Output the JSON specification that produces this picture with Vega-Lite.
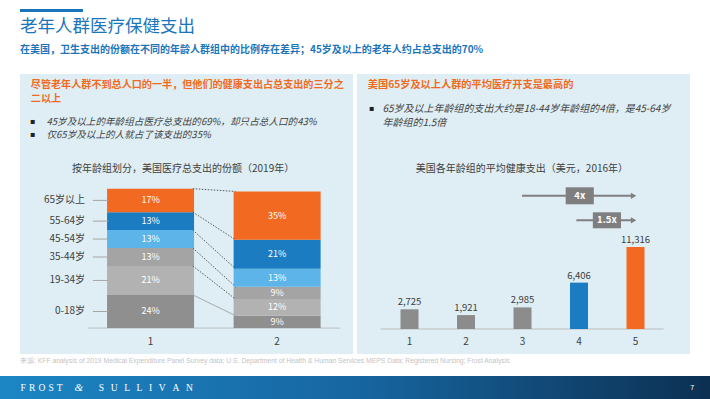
{
  "$schema": "https://vega.github.io/schema/vega-lite/v6.json",
  "padding": {"top": 9, "left": 0, "right": 0, "bottom": 0},
  "background": "#ffffff",
  "spacing": 3,
  "config": {"view": {"stroke": null}, "font": "Noto Sans CJK SC", "axis": {"grid": false}},
  "datasets": {
    "share": [
      {"bar": 1, "age": "0-18岁", "share": 24},
      {"bar": 1, "age": "19-34岁", "share": 21},
      {"bar": 1, "age": "35-44岁", "share": 13},
      {"bar": 1, "age": "45-54岁", "share": 13},
      {"bar": 1, "age": "55-64岁", "share": 13},
      {"bar": 1, "age": "65岁以上", "share": 17},
      {"bar": 2, "age": "0-18岁", "share": 9},
      {"bar": 2, "age": "19-34岁", "share": 12},
      {"bar": 2, "age": "35-44岁", "share": 9},
      {"bar": 2, "age": "45-54岁", "share": 13},
      {"bar": 2, "age": "55-64岁", "share": 21},
      {"bar": 2, "age": "65岁以上", "share": 35}
    ],
    "spend": [
      {"grp": 1, "spend": 2725},
      {"grp": 2, "spend": 1921},
      {"grp": 3, "spend": 2985},
      {"grp": 4, "spend": 6406},
      {"grp": 5, "spend": 11316}
    ]
  },
  "vconcat": [
    {
      "spacing": 4,
      "hconcat": [
        {"width": 16, "height": 5, "view": {"fill": "transparent", "stroke": null}, "data": {"values": []}, "mark": "point", "encoding": {}},
        {"width": 63, "height": 3, "view": {"fill": "#1b75bb", "stroke": null}, "data": {"values": []}, "mark": "point", "encoding": {}}
      ]
    },
    {
      "spacing": 4,
      "resolve": {"scale": {"color": "independent"}},
      "title": {
        "text": "老年人群医疗保健支出",
        "subtitle": "在美国，卫生支出的份额在不同的年龄人群组中的比例存在差异；45岁及以上的老年人约占总支出的70%",
        "anchor": "start", "dx": 20, "frame": "group",
        "font": "Noto Sans CJK SC", "fontSize": 17.5, "fontWeight": "normal", "color": "#1b75bb",
        "subtitleFont": "Noto Sans CJK SC", "subtitleFontSize": 10, "subtitleFontWeight": "bold", "subtitleColor": "#1b75bb",
        "subtitlePadding": 10, "offset": 18.7
      },
      "hconcat": [
        {"width": 16, "height": 3, "view": {"fill": "transparent", "stroke": null}, "data": {"values": []}, "mark": "point", "encoding": {}},
        {
          "width": 333, "height": 280,
          "view": {"fill": "#deeef4", "stroke": null},
          "layer": [
            {
              "data": {"values": [{}]},
              "mark": {"type": "rule", "color": "#bdbdbd", "strokeWidth": 1},
              "encoding": {
                "x": {"datum": 0.506, "type": "quantitative", "scale": {"domain": [0.008, 2.56], "nice": false, "zero": false}, "axis": null},
                "x2": {"datum": 2.499},
                "y": {"datum": 0, "type": "quantitative", "scale": {"domain": [-18.8, 184.1], "nice": false, "zero": false}, "axis": null}
              }
            },
            {
              "data": {"name": "share"},
              "transform": [
                {"stack": "share", "groupby": ["bar"], "sort": [{"field": "age", "order": "ascending"}], "as": ["y0", "y1"]}
              ],
              "mark": {"type": "bar", "width": 87},
              "encoding": {
                "x": {"field": "bar", "type": "quantitative", "scale": {"domain": [0.008, 2.56], "nice": false, "zero": false}, "axis": null},
                "y": {"field": "y0", "type": "quantitative", "scale": {"domain": [-18.8, 184.1], "nice": false, "zero": false}, "axis": null},
                "y2": {"field": "y1"},
                "color": {"field": "age", "type": "nominal", "legend": null,
                          "scale": {"domain": ["0-18岁", "19-34岁", "35-44岁", "45-54岁", "55-64岁", "65岁以上"],
                                    "range": ["#8f8f8f", "#b2b2b2", "#a4a4a4", "#5cb4e9", "#1c7cc2", "#f26a21"]}}
              }
            },
            {
              "data": {"name": "share"},
              "transform": [
                {"stack": "share", "groupby": ["bar"], "sort": [{"field": "age", "order": "ascending"}], "as": ["y0", "y1"]},
                {"pivot": "bar", "value": "y1", "groupby": ["age"]}
              ],
              "mark": {"type": "rule", "strokeWidth": 1},
              "encoding": {
                "x": {"datum": 1.334, "type": "quantitative", "scale": {"domain": [0.008, 2.56], "nice": false, "zero": false}, "axis": null},
                "x2": {"datum": 1.671},
                "y": {"field": "1", "type": "quantitative", "scale": {"domain": [-18.8, 184.1], "nice": false, "zero": false}, "axis": null},
                "y2": {"field": "2"},
                "color": {"condition": {"test": "datum.age === '0-18岁'", "value": "#a0a0a0"}, "value": "#5a5a5a"},
                "strokeDash": {"condition": {"test": "datum.age === '0-18岁'", "value": [1, 0]}, "value": [1.5, 1.5]}
              }
            },
            {
              "data": {"name": "share"},
              "transform": [
                {"stack": "share", "groupby": ["bar"], "sort": [{"field": "age", "order": "ascending"}], "as": ["y0", "y1"]},
                {"calculate": "(datum.y0 + datum.y1) / 2", "as": "ymid"},
                {"calculate": "datum.share + '%'", "as": "lbl"}
              ],
              "mark": {"type": "text", "color": "#ffffff", "fontSize": 9, "font": "Noto Sans CJK SC"},
              "encoding": {
                "x": {"field": "bar", "type": "quantitative", "scale": {"domain": [0.008, 2.56], "nice": false, "zero": false}, "axis": null},
                "y": {"field": "ymid", "type": "quantitative", "scale": {"domain": [-18.8, 184.1], "nice": false, "zero": false}, "axis": null},
                "text": {"field": "lbl"}
              }
            },
            {
              "data": {"name": "share"},
              "transform": [
                {"aggregate": [{"op": "count", "as": "n"}], "groupby": ["bar"]}
              ],
              "mark": {"type": "text", "color": "#404040", "fontSize": 10, "font": "Noto Sans CJK SC"},
              "encoding": {
                "x": {"field": "bar", "type": "quantitative", "scale": {"domain": [0.008, 2.56], "nice": false, "zero": false}, "axis": null},
                "y": {"datum": -10.4, "type": "quantitative", "scale": {"domain": [-18.8, 184.1], "nice": false, "zero": false}, "axis": null},
                "text": {"field": "bar", "format": "d"}
              }
            },
            {
              "data": {"name": "share"},
              "transform": [
                {"stack": "share", "groupby": ["bar"], "sort": [{"field": "age", "order": "ascending"}], "as": ["y0", "y1"]},
                {"calculate": "(datum.y0 + datum.y1) / 2", "as": "ymid"},
                {"filter": "datum.bar === 1"}
              ],
              "mark": {"type": "text", "align": "right", "color": "#404040", "fontSize": 10, "font": "Noto Sans CJK SC"},
              "encoding": {
                "x": {"datum": 0.483, "type": "quantitative", "scale": {"domain": [0.008, 2.56], "nice": false, "zero": false}, "axis": null},
                "y": {"field": "ymid", "type": "quantitative", "scale": {"domain": [-18.8, 184.1], "nice": false, "zero": false}, "axis": null},
                "text": {"field": "age"}
              }
            },
            {
              "data": {"name": "share"},
              "transform": [
                {"stack": "share", "groupby": ["bar"], "sort": [{"field": "age", "order": "ascending"}], "as": ["y0", "y1"]},
                {"calculate": "(datum.y0 + datum.y1) / 2", "as": "ymid"},
                {"filter": "datum.bar === 1"}
              ],
              "mark": {"type": "rule", "color": "#a6a6a6", "strokeWidth": 1},
              "encoding": {
                "x": {"datum": 0.544, "type": "quantitative", "scale": {"domain": [0.008, 2.56], "nice": false, "zero": false}, "axis": null},
                "x2": {"datum": 0.667},
                "y": {"field": "ymid", "type": "quantitative", "scale": {"domain": [-18.8, 184.1], "nice": false, "zero": false}, "axis": null}
              }
            },
            {
              "data": {"values": [{}]},
              "mark": {"type": "text", "text": "尽管老年人群不到总人口的一半，但他们的健康支出占总支出的三分之", "align": "left", "color": "#f26a21", "fontSize": 10.1, "fontWeight": "bold", "font": "Noto Sans CJK SC"},
              "encoding": {
                "x": {"datum": 0.054, "type": "quantitative", "scale": {"domain": [0.008, 2.56], "nice": false, "zero": false}, "axis": null},
                "y": {"datum": 176.3, "type": "quantitative", "scale": {"domain": [-18.8, 184.1], "nice": false, "zero": false}, "axis": null}
              }
            },
            {
              "data": {"values": [{}]},
              "mark": {"type": "text", "text": "二以上", "align": "left", "color": "#f26a21", "fontSize": 10.1, "fontWeight": "bold", "font": "Noto Sans CJK SC"},
              "encoding": {
                "x": {"datum": 0.054, "type": "quantitative", "scale": {"domain": [0.008, 2.56], "nice": false, "zero": false}, "axis": null},
                "y": {"datum": 165.9, "type": "quantitative", "scale": {"domain": [-18.8, 184.1], "nice": false, "zero": false}, "axis": null}
              }
            },
            {
              "data": {"values": [{}]},
              "mark": {"type": "text", "text": "▪", "align": "left", "color": "#222222", "fontSize": 8, "font": "DejaVu Sans"},
              "encoding": {
                "x": {"datum": 0.046, "type": "quantitative", "scale": {"domain": [0.008, 2.56], "nice": false, "zero": false}, "axis": null},
                "y": {"datum": 149.5, "type": "quantitative", "scale": {"domain": [-18.8, 184.1], "nice": false, "zero": false}, "axis": null}
              }
            },
            {
              "data": {"values": [{}]},
              "mark": {"type": "text", "text": "▪", "align": "left", "color": "#222222", "fontSize": 8, "font": "DejaVu Sans"},
              "encoding": {
                "x": {"datum": 0.046, "type": "quantitative", "scale": {"domain": [0.008, 2.56], "nice": false, "zero": false}, "axis": null},
                "y": {"datum": 139.6, "type": "quantitative", "scale": {"domain": [-18.8, 184.1], "nice": false, "zero": false}, "axis": null}
              }
            },
            {
              "data": {"values": [{}]},
              "mark": {"type": "text", "text": "45岁及以上的年龄组占医疗总支出的69%，却只占总人口的43%", "align": "left", "color": "#404040", "fontSize": 9.6, "fontStyle": "italic", "font": "Noto Sans CJK SC"},
              "encoding": {
                "x": {"datum": 0.177, "type": "quantitative", "scale": {"domain": [0.008, 2.56], "nice": false, "zero": false}, "axis": null},
                "y": {"datum": 149.5, "type": "quantitative", "scale": {"domain": [-18.8, 184.1], "nice": false, "zero": false}, "axis": null}
              }
            },
            {
              "data": {"values": [{}]},
              "mark": {"type": "text", "text": "仅65岁及以上的人就占了该支出的35%", "align": "left", "color": "#404040", "fontSize": 9.6, "fontStyle": "italic", "font": "Noto Sans CJK SC"},
              "encoding": {
                "x": {"datum": 0.177, "type": "quantitative", "scale": {"domain": [0.008, 2.56], "nice": false, "zero": false}, "axis": null},
                "y": {"datum": 139.6, "type": "quantitative", "scale": {"domain": [-18.8, 184.1], "nice": false, "zero": false}, "axis": null}
              }
            },
            {
              "data": {"values": [{}]},
              "mark": {"type": "text", "text": "按年龄组划分，美国医疗总支出的份额（2019年）", "align": "center", "color": "#404040", "fontSize": 10, "font": "Noto Sans CJK SC"},
              "encoding": {
                "x": {"datum": 1.257, "type": "quantitative", "scale": {"domain": [0.008, 2.56], "nice": false, "zero": false}, "axis": null},
                "y": {"datum": 115.0, "type": "quantitative", "scale": {"domain": [-18.8, 184.1], "nice": false, "zero": false}, "axis": null}
              }
            }
          ]
        },
        {
          "width": 333, "height": 280,
          "view": {"fill": "#deeef4", "stroke": null},
          "layer": [
            {
              "data": {"values": [{}]},
              "mark": {"type": "rule", "color": "#bdbdbd", "strokeWidth": 1},
              "encoding": {
                "x": {"datum": 0.485, "type": "quantitative", "scale": {"domain": [0.159, 5.876], "nice": false, "zero": false}, "axis": null},
                "x2": {"datum": 5.498},
                "y": {"datum": 0, "type": "quantitative", "scale": {"domain": [-3453, 35221], "nice": false, "zero": false}, "axis": null}
              }
            },
            {
              "data": {"name": "spend"},
              "mark": {"type": "bar", "width": 18},
              "encoding": {
                "x": {"field": "grp", "type": "quantitative", "scale": {"domain": [0.159, 5.876], "nice": false, "zero": false}, "axis": null},
                "y": {"field": "spend", "type": "quantitative", "scale": {"domain": [-3453, 35221], "nice": false, "zero": false}, "axis": null},
                "color": {"field": "grp", "type": "nominal", "legend": null,
                          "scale": {"domain": [1, 2, 3, 4, 5], "range": ["#8c8c8c", "#8c8c8c", "#8c8c8c", "#1c7cc2", "#f26a21"]}}
              }
            },
            {
              "data": {"name": "spend"},
              "mark": {"type": "text", "baseline": "bottom", "dy": -2, "color": "#404040", "fontSize": 9.5, "font": "Noto Sans CJK SC"},
              "encoding": {
                "x": {"field": "grp", "type": "quantitative", "scale": {"domain": [0.159, 5.876], "nice": false, "zero": false}, "axis": null},
                "y": {"field": "spend", "type": "quantitative", "scale": {"domain": [-3453, 35221], "nice": false, "zero": false}, "axis": null},
                "text": {"field": "spend", "format": ","}
              }
            },
            {
              "data": {"name": "spend"},
              "mark": {"type": "text", "color": "#404040", "fontSize": 10, "font": "Noto Sans CJK SC"},
              "encoding": {
                "x": {"field": "grp", "type": "quantitative", "scale": {"domain": [0.159, 5.876], "nice": false, "zero": false}, "axis": null},
                "y": {"datum": -1837, "type": "quantitative", "scale": {"domain": [-3453, 35221], "nice": false, "zero": false}, "axis": null},
                "text": {"field": "grp", "format": "d"}
              }
            },
            {
              "data": {"values": [{}]},
              "mark": {"type": "rule", "color": "#7f7f7f", "strokeWidth": 2},
              "encoding": {
                "x": {"datum": 2.992, "type": "quantitative", "scale": {"domain": [0.159, 5.876], "nice": false, "zero": false}, "axis": null},
                "x2": {"datum": 4.93},
                "y": {"datum": 18398, "type": "quantitative", "scale": {"domain": [-3453, 35221], "nice": false, "zero": false}, "axis": null}
              }
            },
            {
              "data": {"values": [{}]},
              "mark": {"type": "point", "shape": "triangle-right", "filled": true, "size": 40, "color": "#7f7f7f", "opacity": 1},
              "encoding": {
                "x": {"datum": 4.966, "type": "quantitative", "scale": {"domain": [0.159, 5.876], "nice": false, "zero": false}, "axis": null},
                "y": {"datum": 18398, "type": "quantitative", "scale": {"domain": [-3453, 35221], "nice": false, "zero": false}, "axis": null}
              }
            },
            {
              "data": {"values": [{}]},
              "mark": {"type": "rect", "color": "#7f7f7f"},
              "encoding": {
                "x": {"datum": 3.764, "type": "quantitative", "scale": {"domain": [0.159, 5.876], "nice": false, "zero": false}, "axis": null},
                "x2": {"datum": 4.262},
                "y": {"datum": 19572, "type": "quantitative", "scale": {"domain": [-3453, 35221], "nice": false, "zero": false}, "axis": null},
                "y2": {"datum": 17224}
              }
            },
            {
              "data": {"values": [{}]},
              "mark": {"type": "text", "text": "4x", "color": "#ffffff", "fontSize": 9.5, "fontWeight": "bold", "font": "Noto Sans CJK SC"},
              "encoding": {
                "x": {"datum": 4.013, "type": "quantitative", "scale": {"domain": [0.159, 5.876], "nice": false, "zero": false}, "axis": null},
                "y": {"datum": 18398, "type": "quantitative", "scale": {"domain": [-3453, 35221], "nice": false, "zero": false}, "axis": null}
              }
            },
            {
              "data": {"values": [{}]},
              "mark": {"type": "rule", "color": "#7f7f7f", "strokeWidth": 2},
              "encoding": {
                "x": {"datum": 3.953, "type": "quantitative", "scale": {"domain": [0.159, 5.876], "nice": false, "zero": false}, "axis": null},
                "x2": {"datum": 4.93},
                "y": {"datum": 15014, "type": "quantitative", "scale": {"domain": [-3453, 35221], "nice": false, "zero": false}, "axis": null}
              }
            },
            {
              "data": {"values": [{}]},
              "mark": {"type": "point", "shape": "triangle-right", "filled": true, "size": 40, "color": "#7f7f7f", "opacity": 1},
              "encoding": {
                "x": {"datum": 4.966, "type": "quantitative", "scale": {"domain": [0.159, 5.876], "nice": false, "zero": false}, "axis": null},
                "y": {"datum": 15014, "type": "quantitative", "scale": {"domain": [-3453, 35221], "nice": false, "zero": false}, "axis": null}
              }
            },
            {
              "data": {"values": [{}]},
              "mark": {"type": "rect", "color": "#7f7f7f"},
              "encoding": {
                "x": {"datum": 4.245, "type": "quantitative", "scale": {"domain": [0.159, 5.876], "nice": false, "zero": false}, "axis": null},
                "x2": {"datum": 4.743},
                "y": {"datum": 16119, "type": "quantitative", "scale": {"domain": [-3453, 35221], "nice": false, "zero": false}, "axis": null},
                "y2": {"datum": 13909}
              }
            },
            {
              "data": {"values": [{}]},
              "mark": {"type": "text", "text": "1.5x", "color": "#ffffff", "fontSize": 9.5, "fontWeight": "bold", "font": "Noto Sans CJK SC"},
              "encoding": {
                "x": {"datum": 4.494, "type": "quantitative", "scale": {"domain": [0.159, 5.876], "nice": false, "zero": false}, "axis": null},
                "y": {"datum": 15014, "type": "quantitative", "scale": {"domain": [-3453, 35221], "nice": false, "zero": false}, "axis": null}
              }
            },
            {
              "data": {"values": [{}]},
              "mark": {"type": "text", "text": "美国65岁及以上人群的平均医疗开支是最高的", "align": "left", "color": "#f26a21", "fontSize": 10.2, "fontWeight": "bold", "font": "Noto Sans CJK SC"},
              "encoding": {
                "x": {"datum": 0.262, "type": "quantitative", "scale": {"domain": [0.159, 5.876], "nice": false, "zero": false}, "axis": null},
                "y": {"datum": 33660, "type": "quantitative", "scale": {"domain": [-3453, 35221], "nice": false, "zero": false}, "axis": null}
              }
            },
            {
              "data": {"values": [{}]},
              "mark": {"type": "text", "text": "▪", "align": "left", "color": "#222222", "fontSize": 8, "font": "DejaVu Sans"},
              "encoding": {
                "x": {"datum": 0.279, "type": "quantitative", "scale": {"domain": [0.159, 5.876], "nice": false, "zero": false}, "axis": null},
                "y": {"datum": 30345, "type": "quantitative", "scale": {"domain": [-3453, 35221], "nice": false, "zero": false}, "axis": null}
              }
            },
            {
              "data": {"values": [{}]},
              "mark": {"type": "text", "text": "65岁及以上年龄组的支出大约是18-44岁年龄组的4倍，是45-64岁", "align": "left", "color": "#404040", "fontSize": 10, "fontStyle": "italic", "font": "Noto Sans CJK SC"},
              "encoding": {
                "x": {"datum": 0.52, "type": "quantitative", "scale": {"domain": [0.159, 5.876], "nice": false, "zero": false}, "axis": null},
                "y": {"datum": 30345, "type": "quantitative", "scale": {"domain": [-3453, 35221], "nice": false, "zero": false}, "axis": null}
              }
            },
            {
              "data": {"values": [{}]},
              "mark": {"type": "text", "text": "年龄组的1.5倍", "align": "left", "color": "#404040", "fontSize": 10, "fontStyle": "italic", "font": "Noto Sans CJK SC"},
              "encoding": {
                "x": {"datum": 0.52, "type": "quantitative", "scale": {"domain": [0.159, 5.876], "nice": false, "zero": false}, "axis": null},
                "y": {"datum": 28412, "type": "quantitative", "scale": {"domain": [-3453, 35221], "nice": false, "zero": false}, "axis": null}
              }
            },
            {
              "data": {"values": [{}]},
              "mark": {"type": "text", "text": "美国各年龄组的平均健康支出（美元，2016年）", "align": "center", "color": "#404040", "fontSize": 10, "font": "Noto Sans CJK SC"},
              "encoding": {
                "x": {"datum": 2.99, "type": "quantitative", "scale": {"domain": [0.159, 5.876], "nice": false, "zero": false}, "axis": null},
                "y": {"datum": 22058, "type": "quantitative", "scale": {"domain": [-3453, 35221], "nice": false, "zero": false}, "axis": null}
              }
            }
          ]
        }
      ]
    },
    {
      "width": 710, "height": 23,
      "view": {"fill": {"gradient": "linear", "x1": 0, "y1": 0, "x2": 1, "y2": 0, "stops": [{"offset": 0, "color": "#1c86c4"}, {"offset": 0.5, "color": "#1766a1"}, {"offset": 1, "color": "#0c3052"}]}, "stroke": null},
      "title": {"text": "来源: KFF analysis of 2019 Medical Expenditure Panel Survey data; U.S. Department of Health & Human Services MEPS Data; Registered Nursing; Frost Analysis", "anchor": "start", "dx": 20, "fontSize": 6.8, "fontWeight": "normal", "color": "#c4c4c4", "font": "Liberation Sans", "offset": 11.3, "frame": "group"},
      "data": {"values": [{}]},
      "layer": [
        {
          "mark": {"type": "text", "text": "F\u200a R\u200a O\u200a S\u200a T", "align": "left", "color": "#ffffff", "fontSize": 9.5, "font": "Liberation Serif"},
          "encoding": {"x": {"datum": 0.029, "type": "quantitative", "scale": {"domain": [0, 1], "nice": false, "zero": false}, "axis": null}}
        },
        {
          "mark": {"type": "text", "text": "&", "align": "center", "color": "#ffffff", "fontSize": 11, "fontStyle": "italic", "font": "Liberation Serif"},
          "encoding": {"x": {"datum": 0.111, "type": "quantitative", "scale": {"domain": [0, 1], "nice": false, "zero": false}, "axis": null}}
        },
        {
          "mark": {"type": "text", "text": "S\u2002\u2009U\u2002\u2009L\u2002\u2009L\u2002\u2009I\u2002\u2009V\u2002\u2009A\u2002\u2009N", "align": "left", "color": "#ffffff", "fontSize": 9.5, "font": "Liberation Serif"},
          "encoding": {"x": {"datum": 0.139, "type": "quantitative", "scale": {"domain": [0, 1], "nice": false, "zero": false}, "axis": null}}
        },
        {
          "mark": {"type": "text", "text": "7", "align": "center", "color": "#ffffff", "fontSize": 7, "font": "Noto Sans CJK SC"},
          "encoding": {"x": {"datum": 0.975, "type": "quantitative", "scale": {"domain": [0, 1], "nice": false, "zero": false}, "axis": null}}
        }
      ]
    }
  ]
}
